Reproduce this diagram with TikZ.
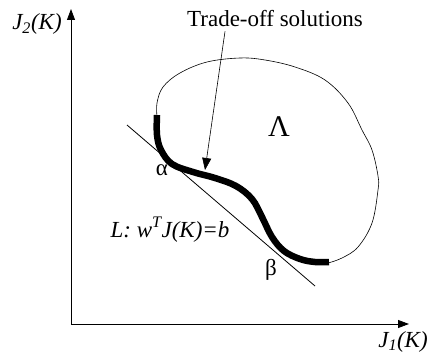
\documentclass[tikz,border=0pt]{standalone}
\usepackage{fontspec}
\setmainfont{Liberation Serif}
\usetikzlibrary{arrows.meta}
\usetikzlibrary{positioning,calc}

\begin{document}
\begin{tikzpicture}[x=1pt,y=1pt]
			\def\fs{\fontsize{23}{27}\selectfont}

			\tikzset{line/.style={draw,line width=0.8pt}}
			\tikzset{arrow/.style={line,-{Triangle[length=11pt,width=8pt]}}}
			\tikzset{front/.style={draw,line width=6.5pt,line cap=butt,line join=round}}
			\tikzset{label/.style={inner sep=0pt,font=\fs}}

			\useasboundingbox (0,0) rectangle (430,356);

			% axes
			\coordinate (o) at (71,32);
			\coordinate (ytip) at (71,347);
			\coordinate (xtip) at (409,32);
			\draw[arrow] (o) -- (ytip);
			\draw[arrow] (o) -- (xtip);

			\node[label,anchor=base] (j2) at (37,326) {\textit{J\textsubscript{2}(K)}};
			\node[label,anchor=base] (j1) at (403,9) {\textit{J\textsubscript{1}(K)}};

			% region boundary
			\draw[line,line width=0.6pt] plot[smooth,tension=0.6] coordinates {(328,93) (342,98) (358,109) (372,133) (378,166) (378,180) (372,206) (362,226) (348,253) (325,276) (295,289) (265,296) (240,298) (207,294) (180,283) (163,269) (157,253) (157,240)};

			% trade-off solutions
			\draw[front] plot[smooth,tension=0.6] coordinates {(157,241) (157,221) (161,206) (172,192) (193,184) (215,178) (236,170) (252,157) (262,139) (272,119) (284,105) (300,97) (315,94) (329,94)};

			% supporting line L
			\coordinate (l1) at (127,231);
			\coordinate (l2) at (315,70);
			\draw[line] (l1) -- (l2);

			\node[label,font=\fontsize{30}{34}\selectfont] (lam) at (279,229) {Λ};
			\node[label] (alpha) at (162,186) {α};
			\node[label] (beta) at (271,86) {β};
			\node[label,anchor=base] (eqn) at (170,119) {\textit{L: w\textsuperscript{T}J(K)=b}};

			\node[label,anchor=base] (trade) at (275,329) {Trade-off solutions};
			\coordinate (hit) at (205,186);
			\draw[arrow,line width=0.6pt,-{Triangle[length=12pt,width=9pt]}] ($(trade.south)+(-50,-4)$) -- (hit);
		\end{tikzpicture}
\end{document}
